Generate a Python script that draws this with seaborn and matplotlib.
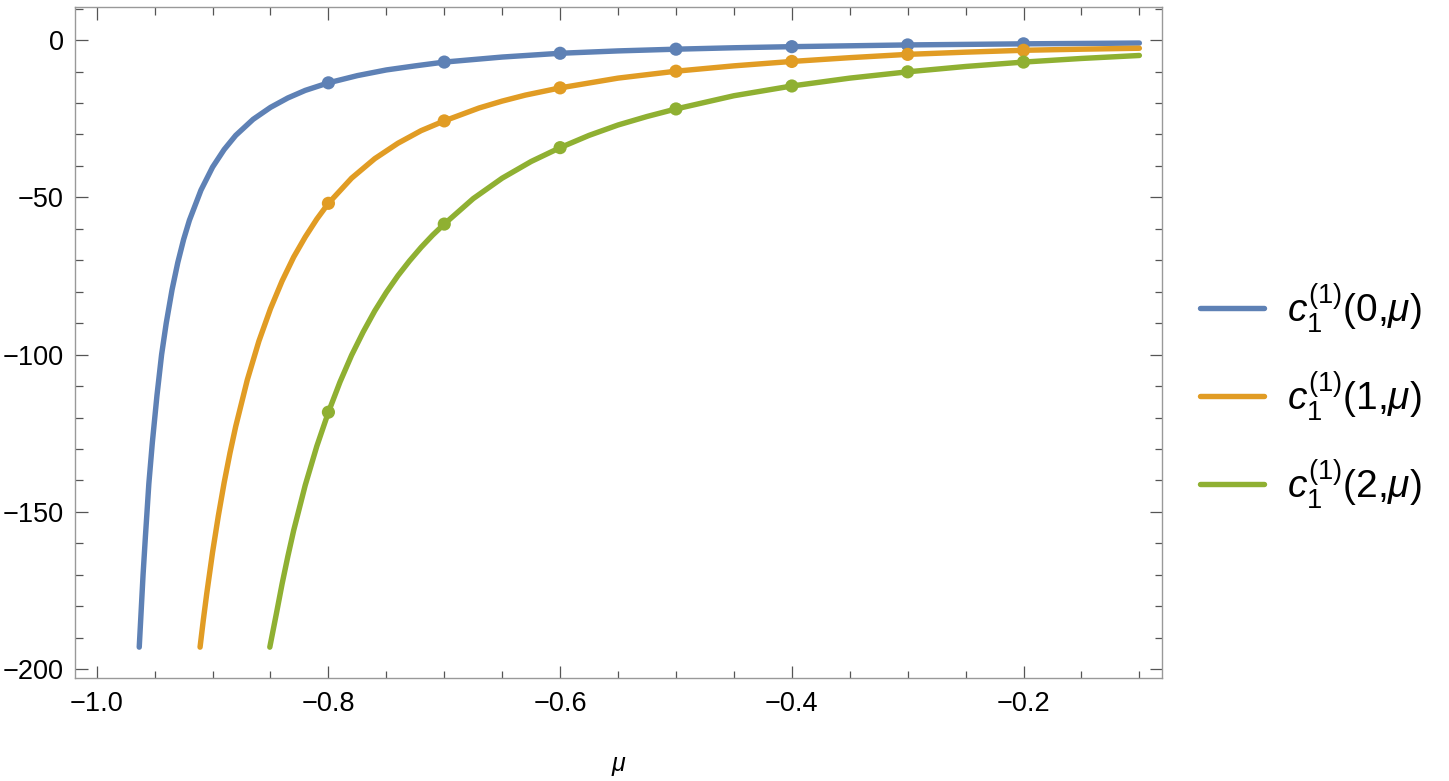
import numpy as np
import pandas as pd
import seaborn as sns
import matplotlib.pyplot as plt
from matplotlib.ticker import MultipleLocator
from matplotlib.lines import Line2D

# Curves: mu and c_1^(1)(n, mu)
mu_n0 = [-0.9633, -0.9620, -0.9600, -0.9580, -0.9550, -0.9520, -0.9480, -0.9440, -0.9400,
         -0.9350, -0.9300, -0.9250, -0.9200, -0.9100, -0.9000, -0.8900, -0.8800, -0.8650,
         -0.8500, -0.8350, -0.8200, -0.8000, -0.7750, -0.7500, -0.7250, -0.7000, -0.6500,
         -0.6000, -0.5500, -0.5000, -0.4500, -0.4000, -0.3000, -0.2000, -0.1000]
c_n0 = [-193.0, -184.0, -170.0, -158.0, -141.0, -128.0, -113.0, -100.0, -90.0,
        -79.4, -70.7, -63.4, -57.3, -47.7, -40.4, -34.8, -30.3, -25.2,
        -21.4, -18.4, -16.0, -13.6, -11.3, -9.5, -8.2, -7.0, -5.4,
        -4.2, -3.45, -2.9, -2.45, -2.1, -1.55, -1.2, -0.95]

mu_n1 = [-0.9108, -0.9080, -0.9050, -0.9000, -0.8950, -0.8900, -0.8850, -0.8800, -0.8700,
         -0.8600, -0.8500, -0.8400, -0.8300, -0.8200, -0.8100, -0.8000, -0.7800, -0.7600,
         -0.7400, -0.7200, -0.7000, -0.6700, -0.6500, -0.6300, -0.6000, -0.5500, -0.5000,
         -0.4500, -0.4000, -0.3500, -0.3000, -0.2500, -0.2000, -0.1500, -0.1000]
c_n1 = [-193.0, -184.4, -175.9, -162.8, -151.2, -140.7, -131.3, -122.8, -108.0,
        -95.7, -85.4, -76.6, -69.0, -62.6, -56.9, -51.9, -43.9, -37.7,
        -32.8, -28.8, -25.7, -21.6, -19.4, -17.5, -15.2, -12.1, -9.9,
        -8.2, -6.8, -5.6, -4.55, -3.85, -3.25, -2.9, -2.6]

mu_n2 = [-0.8506, -0.8450, -0.8400, -0.8350, -0.8300, -0.8200, -0.8100, -0.8000, -0.7900,
         -0.7800, -0.7700, -0.7600, -0.7500, -0.7400, -0.7300, -0.7200, -0.7100, -0.7000,
         -0.6750, -0.6500, -0.6250, -0.6000, -0.5750, -0.5500, -0.5250, -0.5000, -0.4500,
         -0.4000, -0.3500, -0.3000, -0.2500, -0.2000, -0.1500, -0.1000]
c_n2 = [-193.0, -182.5, -172.9, -164.1, -155.9, -141.5, -129.1, -118.3, -108.7,
        -100.2, -92.8, -86.1, -80.2, -74.9, -70.2, -65.9, -62.0, -58.5,
        -50.4, -43.9, -38.6, -34.2, -30.3, -27.0, -24.3, -21.9, -17.7,
        -14.6, -12.1, -10.1, -8.4, -7.0, -5.85, -4.9]

# sampled dots
mu_dots = [-0.8, -0.7, -0.6, -0.5, -0.4, -0.3, -0.2]
dots_n0 = [-13.6, -7.0, -4.2, -2.9, -2.1, -1.55, -1.2]
dots_n1 = [-51.9, -25.7, -15.2, -9.9, -6.8, -4.55, -3.25]
dots_n2 = [-118.3, -58.5, -34.2, -21.9, -14.6, -10.1, -7.0]

labels = [r'$c_1^{(1)}(0{,}\mu)$', r'$c_1^{(1)}(1{,}\mu)$', r'$c_1^{(1)}(2{,}\mu)$']
colors = ['#5E81B5', '#E19C24', '#8FB032']

sns.set_theme(style='ticks')
plt.rcParams['font.family'] = ['Liberation Sans', 'DejaVu Sans']
plt.rcParams['mathtext.fontset'] = 'custom'
plt.rcParams['mathtext.rm'] = 'Liberation Sans'
plt.rcParams['mathtext.it'] = 'Liberation Sans:italic'

curves = pd.concat([
    pd.DataFrame({'mu': mu_n0, 'c': c_n0, 'series': labels[0]}),
    pd.DataFrame({'mu': mu_n1, 'c': c_n1, 'series': labels[1]}),
    pd.DataFrame({'mu': mu_n2, 'c': c_n2, 'series': labels[2]}),
], ignore_index=True)
dots = pd.concat([
    pd.DataFrame({'mu': mu_dots, 'c': d, 'series': lab})
    for d, lab in zip([dots_n0, dots_n1, dots_n2], labels)
], ignore_index=True)
pal = dict(zip(labels, colors))

fig = plt.figure(figsize=(14.49, 7.81), dpi=100)
ax = fig.add_axes([0.0518, 0.1315, 0.7501, 0.8599])

sns.lineplot(data=curves, x='mu', y='c', hue='series', palette=pal, sort=False,
             estimator=None, lw=3.9, ax=ax, legend=False)
sns.scatterplot(data=dots, x='mu', y='c', hue='series', palette=pal, s=90,
                linewidth=0, ax=ax, legend=False, zorder=3)

ax.set_xlim(-1.0187, -0.0805)
ax.set_ylim(-202.9, 10.6)
ax.xaxis.set_major_locator(MultipleLocator(0.2))
ax.xaxis.set_minor_locator(MultipleLocator(0.05))
ax.yaxis.set_major_locator(MultipleLocator(50))
ax.yaxis.set_minor_locator(MultipleLocator(10))
ax.tick_params(which='both', direction='in', top=True, right=True, color='#555555',
               width=0.9, labelsize=19.5, labelcolor='black')
ax.tick_params(which='major', length=9)
ax.tick_params(which='minor', length=5.4)
ax.tick_params(axis='x', pad=9)
ax.tick_params(axis='y', pad=8)
for sp in ax.spines.values():
    sp.set_visible(True)
    sp.set_color('#999999')
    sp.set_linewidth(1.0)

ax.set_xlabel(r'$\mu$', fontsize=18, labelpad=27, color='black')
ax.set_ylabel('')

handles = [Line2D([], [], color=c, lw=3.9) for c in colors]
fig.legend(handles, labels, loc='center left', bbox_to_anchor=(0.828, 0.493),
           frameon=False, fontsize=28, handlelength=1.65, handletextpad=0.6,
           labelspacing=0.88, borderpad=0, borderaxespad=0, labelcolor='black')

fig.savefig('out.png', dpi=100)
